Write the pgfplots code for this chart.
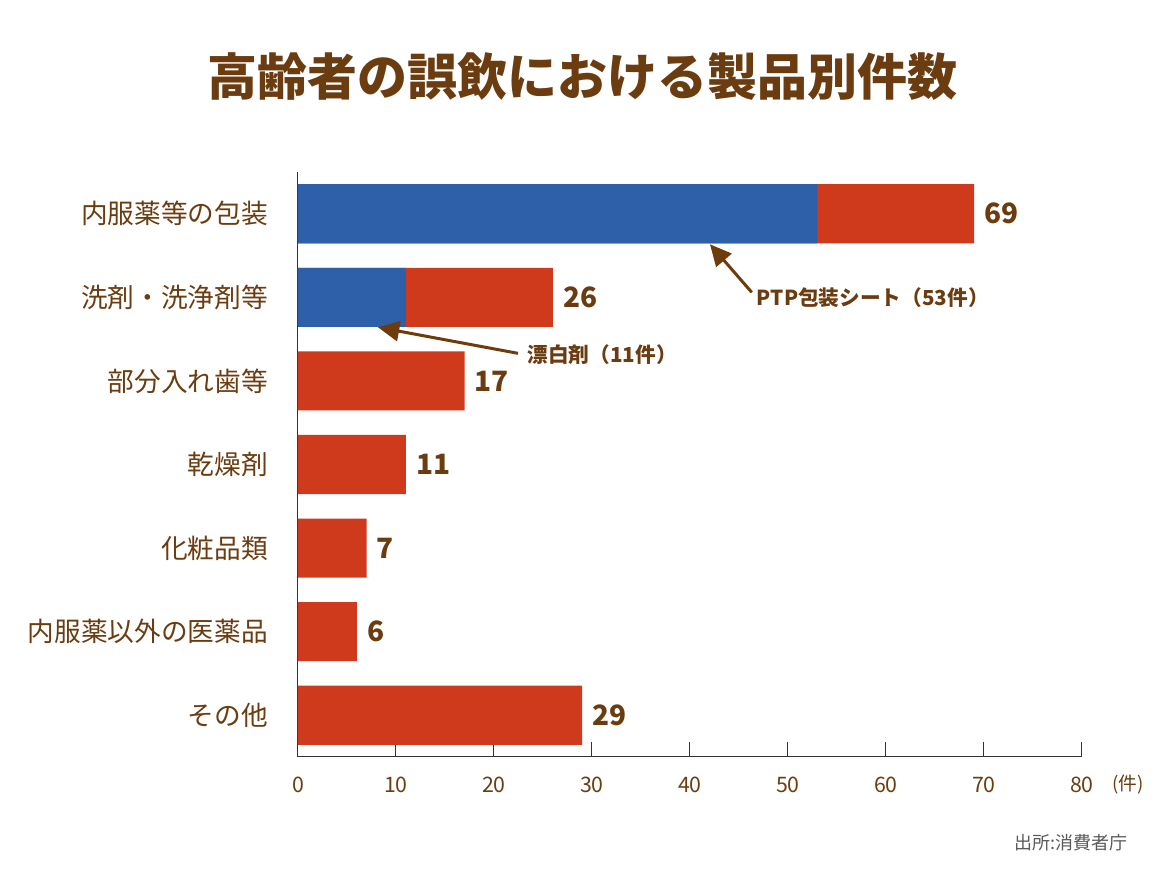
\documentclass[border=0pt]{standalone}
\usepackage{fontspec}
\setmainfont{Noto Sans CJK JP}
\usepackage{pgfplots}
\pgfplotsset{compat=1.18}
\usetikzlibrary{arrows.meta}
\definecolor{txtbrown}{RGB}{107,60,16}
\definecolor{barblue}{RGB}{46,96,170}
\definecolor{barred}{RGB}{208,58,28}
\definecolor{arrbrown}{RGB}{110,60,10}
\begin{document}
\begin{tikzpicture}
\path[use as bounding box] (0,0) rectangle (873.75pt,655.5pt);
\node[font=\bfseries\fontsize{37.5}{40}\selectfont, text=txtbrown] at (436.9pt,597.75pt) {高齢者の誤飲における製品別件数};
\begin{axis}[
  at={(223.5pt,87.75pt)}, anchor=south west,
  width=588pt, height=438.75pt, scale only axis,
  xbar, bar width=0.707, bar shift=0pt,
  xmin=0, xmax=80, ymin=-0.5, ymax=6.5,
  enlargelimits=false,
  axis x line*=bottom, axis y line*=left,
  axis line style={draw=black!80, line width=0.75pt},
  xtick={0,10,...,80},
  tick align=inside,
  major tick length=11.25pt,
  xtick style={draw=black!80, line width=0.75pt},
  ytick={0,...,6}, ytick style={draw=none},
  yticklabels={その他, 内服薬以外の医薬品, 化粧品類, 乾燥剤, 部分入れ歯等, 洗剤・洗浄剤等, 内服薬等の包装},
  /pgf/number format/assume math mode=true,
  xticklabel style={font=\fontsize{16}{18}\selectfont, text=txtbrown, anchor=center, yshift=-21pt},
  yticklabel style={font=\fontsize{20}{22}\selectfont, text=txtbrown, anchor=east, inner sep=0pt, xshift=-22.5pt},
]
% 合計（赤）
\addplot[fill=barred, draw=none, nodes near coords,
  every node near coord/.append style={font=\bfseries\fontsize{21}{22}\selectfont, text=txtbrown, anchor=west, inner sep=0pt, xshift=7.5pt}]
  coordinates {(69,6) (26,5) (17,4) (11,3) (7,2) (6,1) (29,0)};
% うち PTP包装シート / 漂白剤（青）
\addplot[fill=barblue, draw=none] coordinates {(53,6) (11,5)};

\draw[arrbrown, line width=2.25pt, -{Triangle[length=16pt,width=15pt]}] (axis cs:46.3,5.06) -- (axis cs:42.04,5.635);
\node[anchor=west, font=\bfseries\fontsize{15.5}{17}\selectfont, text=txtbrown, inner sep=0pt] at (axis cs:46.8,5.0) {PTP包装シート（53件）};
\draw[arrbrown, line width=2.25pt, -{Triangle[length=16pt,width=15pt]}] (axis cs:22.45,4.33) -- (axis cs:8.16,4.642);
\node[anchor=west, font=\bfseries\fontsize{15.5}{17}\selectfont, text=txtbrown, inner sep=0pt] at (axis cs:23.4,4.32) {漂白剤（11件）};
\end{axis}
\node[anchor=west, font=\fontsize{14}{16}\selectfont, text=txtbrown, inner sep=0pt] at (834pt,66.75pt) {(件)};
\node[anchor=east, font=\fontsize{13.5}{15}\selectfont, text=black!65, inner sep=0pt] at (846pt,23.25pt) {出所:消費者庁};
\end{tikzpicture}
\end{document}
